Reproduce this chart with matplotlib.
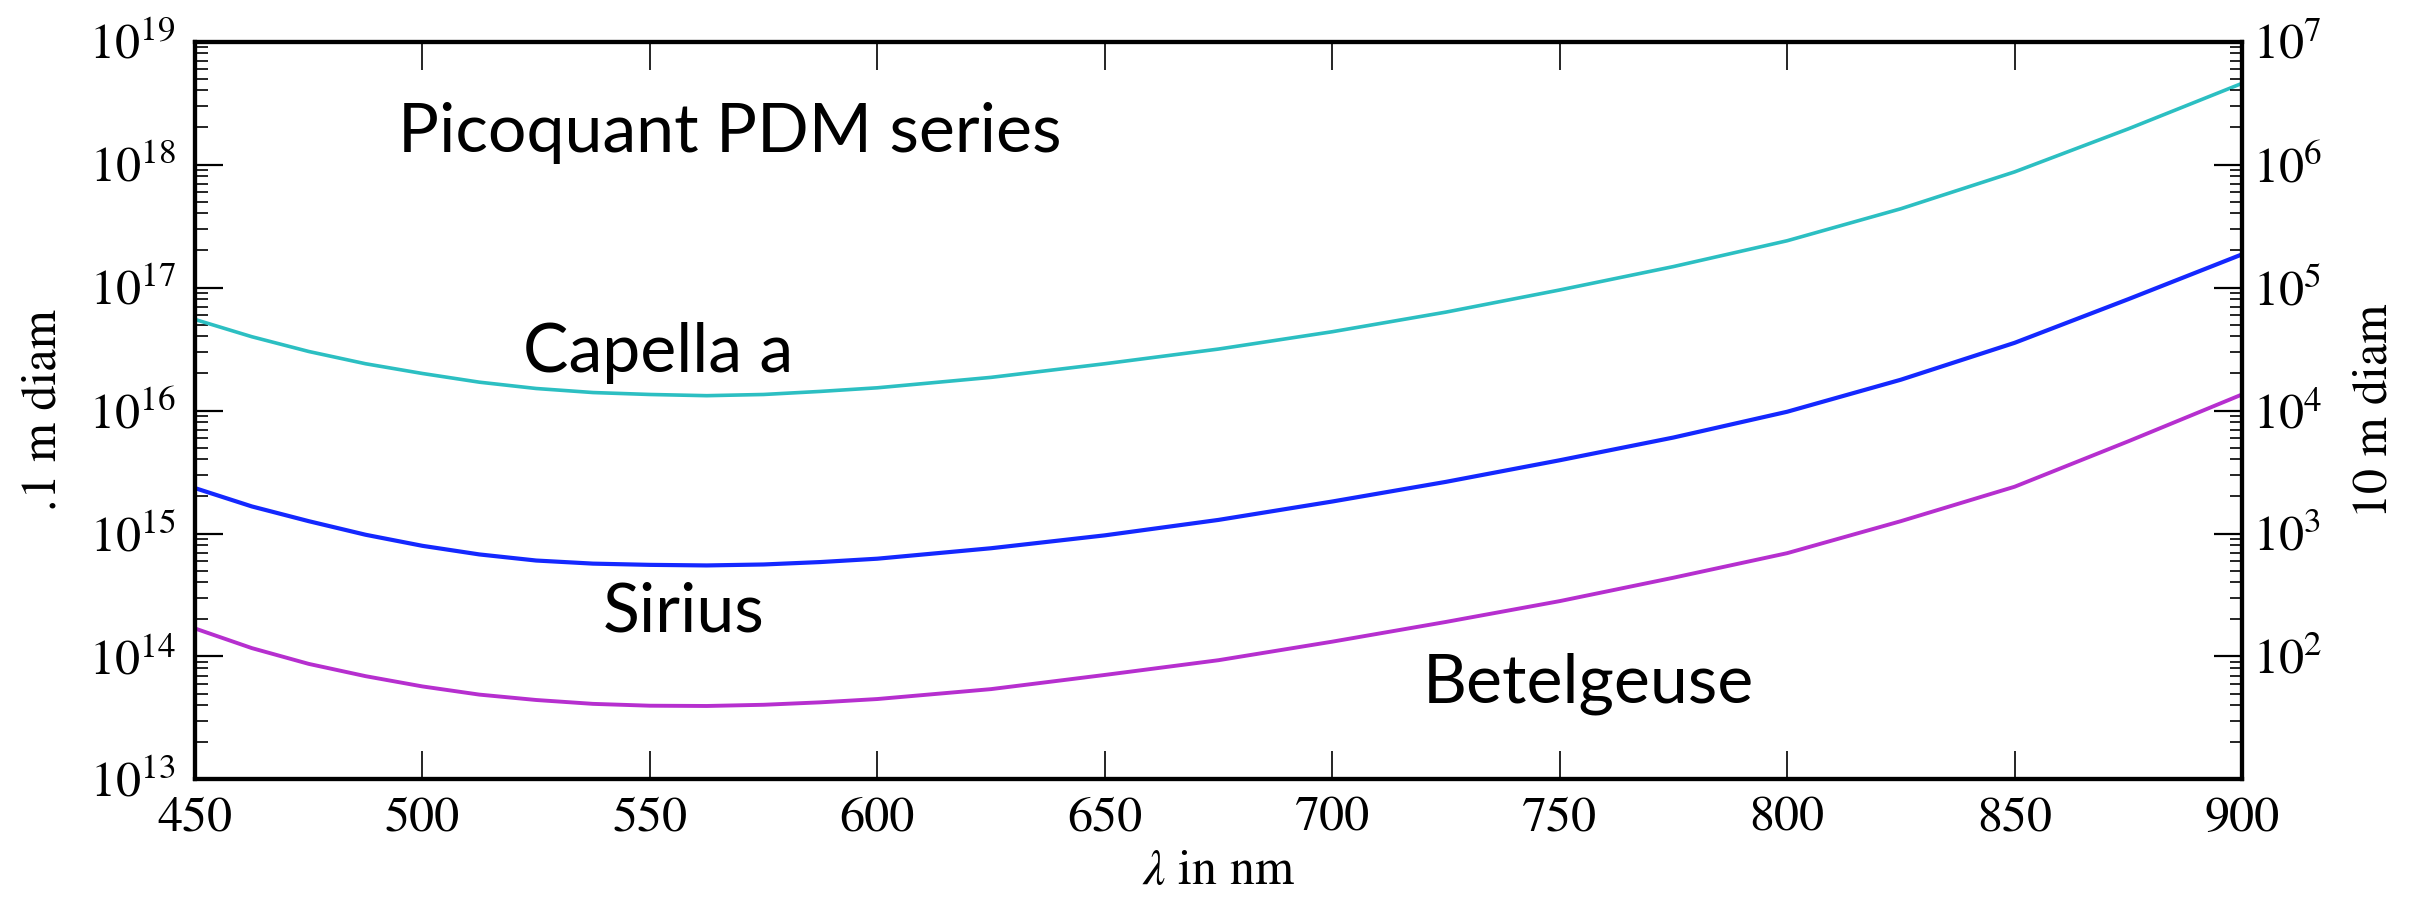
import matplotlib
matplotlib.use("Agg")
import matplotlib.pyplot as plt
import matplotlib.ticker as ticker
import numpy as np

# ── data ──────────────────────────────────────────────────────────────────────
wavelength_nm = [450, 462.5, 475, 487.5, 500, 512.5, 525, 537.5, 550, 562.5,
                 575, 587.5, 600, 625, 650, 675, 700, 725, 750, 775, 800, 825,
                 850, 875, 900]

capella = [5.50e16, 3.98e16, 3.02e16, 2.40e16, 2.00e16, 1.70e16, 1.51e16,
           1.40e16, 1.35e16, 1.32e16, 1.35e16, 1.43e16, 1.53e16, 1.86e16,
           2.40e16, 3.16e16, 4.37e16, 6.31e16, 9.55e16, 1.48e17, 2.40e17,
           4.37e17, 8.71e17, 1.95e18, 4.57e18]
sirius = [2.34e15, 1.66e15, 1.26e15, 9.77e14, 7.94e14, 6.76e14, 6.03e14,
          5.69e14, 5.56e14, 5.50e14, 5.60e14, 5.86e14, 6.24e14, 7.59e14,
          9.66e14, 1.29e15, 1.82e15, 2.63e15, 3.94e15, 6.03e15, 9.77e15,
          1.78e16, 3.55e16, 8.04e16, 1.86e17]
betelgeuse = [1.69e14, 1.17e14, 8.71e13, 6.92e13, 5.71e13, 4.90e13, 4.43e13,
              4.12e13, 3.98e13, 3.96e13, 4.05e13, 4.24e13, 4.51e13, 5.43e13,
              7.08e13, 9.33e13, 1.32e14, 1.91e14, 2.82e14, 4.37e14, 6.92e14,
              1.26e15, 2.40e15, 5.62e15, 1.35e16]

left_decades = [13, 14, 15, 16, 17, 18, 19]
right_decades = [1, 2, 3, 4, 5, 6, 7]
right_labeled = [2, 3, 4, 5, 6, 7]

# ── style ────────────────────────────────────────────────────────────────────
plt.rcParams["font.family"] = "STIXGeneral"
plt.rcParams["mathtext.fontset"] = "stix"
TICK_FS = 36
NOTE_FONT = "Lato"
NOTE_FS = 49

fig = plt.figure(figsize=(24.16, 8.97), dpi=100, facecolor="white")
ax = fig.add_axes([0.0807, 0.131, 0.8473, 0.8227])

ax.plot(wavelength_nm, capella, color="#2cbfc2", lw=2.6)
ax.plot(wavelength_nm, sirius, color="#1428ff", lw=3.0)
ax.plot(wavelength_nm, betelgeuse, color="#b62fcf", lw=2.8)

ax.set_yscale("log")
ax.set_xlim(450, 900)
ax.set_ylim(10.0 ** left_decades[0], 10.0 ** left_decades[-1])
ax.set_xticks(range(450, 901, 50))
ax.set_yticks([10.0 ** d for d in left_decades])
ax.set_yticklabels([rf"$10^{{{d}}}$" for d in left_decades])
ax.yaxis.set_minor_locator(ticker.LogLocator(base=10, subs=np.arange(2, 10)))
ax.yaxis.set_minor_formatter(ticker.NullFormatter())

ax.tick_params(axis="x", which="major", direction="in", top=True,
               length=20, width=1.2, labelsize=TICK_FS, pad=12)
ax.tick_params(axis="y", which="major", direction="in", right=False,
               length=20, width=1.6, labelsize=TICK_FS, pad=14)
ax.tick_params(axis="y", which="minor", direction="in", right=False,
               length=9, width=1.2)
for s in ax.spines.values():
    s.set_linewidth(3)

ax.set_xlabel(r"$\lambda$ in nm", fontsize=TICK_FS)
ax.set_ylabel(".1 m diam", fontsize=TICK_FS)
ax.xaxis.set_label_coords(0.5, -0.095)
ax.yaxis.set_label_coords(-0.063, 0.5)

# right-hand axis: 10 m aperture
ax2 = ax.twinx()
ax2.set_yscale("log")
ax2.set_ylim(10.0 ** right_decades[0], 10.0 ** right_decades[-1])
ax2.set_yticks([10.0 ** d for d in right_decades])
ax2.set_yticklabels([rf"$10^{{{d}}}$" if d in right_labeled else ""
                     for d in right_decades])
ax2.yaxis.set_minor_locator(ticker.LogLocator(base=10, subs=np.arange(2, 10)))
ax2.yaxis.set_minor_formatter(ticker.NullFormatter())
ax2.tick_params(axis="y", which="major", direction="in",
                length=20, width=1.6, labelsize=TICK_FS, pad=8)
ax2.tick_params(axis="y", which="minor", direction="in", length=9, width=1.2)
ax2.set_ylabel("10 m diam", fontsize=TICK_FS)
ax2.yaxis.set_label_coords(1.054, 0.5)
for s in ax2.spines.values():
    s.set_linewidth(3)

# slide annotations
notes = [("Picoquant PDM series", 0.099, 0.850),
         ("Capella a", 0.160, 0.552),
         ("Sirius", 0.199, 0.200),
         ("Betelgeuse", 0.600, 0.104)]
for txt, xf, yf in notes:
    ax.text(xf, yf, txt, transform=ax.transAxes, fontsize=NOTE_FS,
            family=NOTE_FONT, ha="left", va="baseline", color="black")

fig.savefig("out.png", dpi=100, facecolor="white")
